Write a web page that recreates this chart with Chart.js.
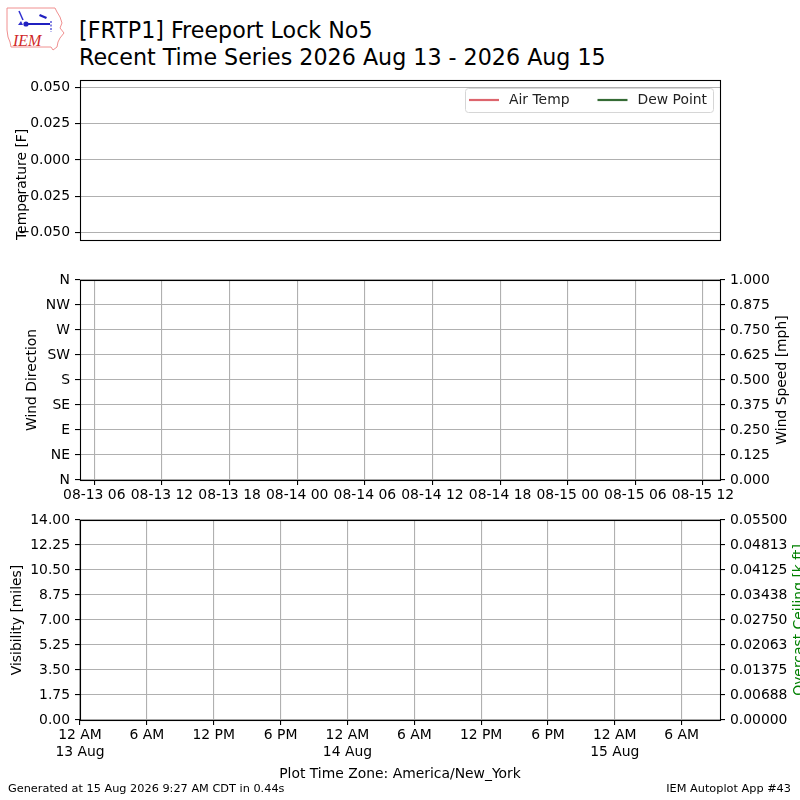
<!DOCTYPE html>
<html>
<head>
<meta charset="utf-8">
<script src="https://cdn.jsdelivr.net/npm/chart.js@4.4.1/dist/chart.umd.min.js"></script>
<style>
html,body{margin:0;padding:0;background:#fff;overflow:hidden;width:800px;height:800px;}
#wrap{position:relative;width:800px;height:800px;font-family:"DejaVu Sans",sans-serif;color:#000;}
canvas.layer{position:absolute;left:0;top:0;}
#title{position:absolute;left:79px;top:16.8px;font-size:22.2px;line-height:27px;white-space:nowrap;}
.foot{position:absolute;top:783px;font-size:11.3px;line-height:11.3px;white-space:nowrap;}
#logo{position:absolute;left:0;top:0;}
</style>
</head>
<body>
<div id="wrap">
  <svg id="logo" width="75" height="55" viewBox="0 0 75 55">
    <path d="M7,8 L55,8 L57,12 L60,17 L62,23 L60,28 L64,33 L60,38 L58,42 L57,47 L53,50 L51,47 L11,47 L10,42 L8,37 L7,30 Z" fill="none" stroke="#f09090" stroke-width="1"/>
    <line x1="19" y1="11" x2="23" y2="20" stroke="#3030d0" stroke-width="1.5"/>
    <path d="M18,25 L21,21 L23,25 Z" fill="#3030d0"/>
    <circle cx="26" cy="24" r="2.6" fill="#2020c0"/>
    <line x1="26" y1="24" x2="50" y2="24" stroke="#2020c0" stroke-width="2"/>
    <path d="M40,14 L47,17 L46,19 L39,16 Z" fill="#2020c0"/>
    <line x1="51" y1="21" x2="51" y2="32" stroke="#3030d0" stroke-width="1.2" stroke-dasharray="2,1.5"/>
    <text x="13" y="46" font-family="Liberation Serif" font-style="italic" font-size="16" fill="#d02828">IEM</text>
  </svg>
  <div id="title">[FRTP1] Freeport Lock No5<br>Recent Time Series 2026 Aug 13 - 2026 Aug 15</div>
  <canvas id="c1" class="layer" width="800" height="800"></canvas>
  <canvas id="c2" class="layer" width="800" height="800"></canvas>
  <canvas id="c3" class="layer" width="800" height="800"></canvas>
  <div class="foot" style="left:8px;">Generated at 15 Aug 2026 9:27 AM CDT in 0.44s</div>
  <div class="foot" style="right:9px;">IEM Autoplot App #43</div>
</div>
<script>
// ---- data (no observations were available in this window) ----
const hoursSinceStart = [];   // obs times, hours after 2026-08-13 00:00 local
const airTempF = [];
const dewPointF = [];
const windDirDeg = [];
const windSpeedMph = [];
const visibilityMiles = [];
const ceilingKft = [];

// ---- tick values / labels ----
const tempTicks = [-0.05, -0.025, 0, 0.025, 0.05];
const dirTicks = [0, 45, 90, 135, 180, 225, 270, 315, 360];
const dirLabels = ['N', 'NE', 'E', 'SE', 'S', 'SW', 'W', 'NW', 'N'];
const speedTicks = [0, 0.125, 0.25, 0.375, 0.5, 0.625, 0.75, 0.875, 1];
const visTicks = [0, 1.75, 3.5, 5.25, 7, 8.75, 10.5, 12.25, 14];
const ceilTicks = [0, 0.006875, 0.01375, 0.020625, 0.0275, 0.034375, 0.04125, 0.048125, 0.055];
const windTickHours = [6, 12, 18, 24, 30, 36, 42, 48, 54, 60];
const windTickLabels = ['08-13 06', '08-13 12', '08-13 18', '08-14 00', '08-14 06',
                        '08-14 12', '08-14 18', '08-15 00', '08-15 06', '08-15 12'];
const localTickHours = [0, 6, 12, 18, 24, 30, 36, 42, 48, 54];
const localTickLabels = [['12 AM', '13 Aug'], '6 AM', '12 PM', '6 PM', ['12 AM', '14 Aug'],
                         '6 AM', '12 PM', '6 PM', ['12 AM', '15 Aug'], '6 AM'];

// ---- style ----
const FONT = {family: 'DejaVu Sans', size: 13.9};
const GRID = '#b0b0b0';
const RED = '#dd656d';
const GREEN = '#356b35';
Chart.defaults.font.family = 'DejaVu Sans';
Chart.defaults.font.size = 13.9;
Chart.defaults.color = '#000';

const pts = (ys) => hoursSinceStart.map((h, i) => ({x: h, y: ys[i]}));
const setTicks = (vals) => (s) => { s.ticks = vals.map(v => ({value: v})); };
const fixW = (s) => { s.width = 80; };

const framePlugin = {
  id: 'frame',
  afterDraw(chart) {
    const {ctx, chartArea: a} = chart;
    ctx.save();
    ctx.strokeStyle = '#000';
    ctx.lineWidth = 1.1;
    ctx.strokeRect(Math.round(a.left) + 0.5, Math.round(a.top) + 0.5,
                   Math.round(a.right - a.left), Math.round(a.bottom - a.top));
    ctx.restore();
  }
};

function sideTitle(text, color, x) {
  return {
    id: 'sideTitle',
    afterDraw(chart) {
      const {ctx, chartArea: a} = chart;
      ctx.save();
      ctx.translate(x, (a.top + a.bottom) / 2);
      ctx.rotate(-Math.PI / 2);
      ctx.textAlign = 'center';
      ctx.textBaseline = 'alphabetic';
      ctx.fillStyle = color;
      ctx.font = '13.9px "DejaVu Sans"';
      ctx.fillText(text, 0, 0);
      ctx.restore();
    }
  };
}

const legendPlugin = {
  id: 'boxLegend',
  afterDraw(chart) {
    const {ctx, chartArea: a} = chart;
    const ds = chart.data.datasets;
    ctx.save();
    ctx.font = '13.9px "DejaVu Sans"';
    const padL = 4, handle = 30, gap = 10, colGap = 28, padR = 6;
    let total = padL + padR;
    ds.forEach((d, i) => { total += handle + gap + ctx.measureText(d.label).width + (i ? colGap : 0); });
    const right = a.right - 7, top = a.top + 8, h = 24;
    const left = right - total;
    ctx.beginPath();
    ctx.roundRect(left + 0.5, top + 0.5, total, h, 3);
    ctx.fillStyle = 'rgba(255,255,255,0.8)';
    ctx.fill();
    ctx.strokeStyle = '#d6d6d6';
    ctx.lineWidth = 1;
    ctx.stroke();
    let x = left + padL;
    const cy = top + h / 2;
    ds.forEach((d, i) => {
      if (i) x += colGap;
      ctx.beginPath();
      ctx.moveTo(x, cy); ctx.lineTo(x + handle, cy);
      ctx.strokeStyle = d.borderColor; ctx.lineWidth = 2.2;
      ctx.stroke();
      x += handle + gap;
      ctx.fillStyle = '#222';
      ctx.textBaseline = 'middle';
      ctx.textAlign = 'left';
      ctx.fillText(d.label, x, cy);
      x += ctx.measureText(d.label).width;
    });
    ctx.restore();
  }
};

const yGrid = {color: GRID, lineWidth: 1.1, tickLength: 5, tickColor: '#000'};
const tickOnly = {drawOnChartArea: false, tickLength: 5, tickColor: '#000', lineWidth: 1.1};

// ---- Panel 1: temperature ----
new Chart(document.getElementById('c1'), {
  type: 'line',
  data: {datasets: [
    {label: 'Air Temp', data: pts(airTempF), borderColor: RED, backgroundColor: RED, borderWidth: 2, pointRadius: 0},
    {label: 'Dew Point', data: pts(dewPointF), borderColor: GREEN, backgroundColor: GREEN, borderWidth: 2, pointRadius: 0}
  ]},
  options: {
    responsive: false, animation: false,
    layout: {padding: {top: 80, bottom: 560, left: 0, right: 80}},
    plugins: {legend: {display: false}, tooltip: {enabled: false}},
    scales: {
      x: {type: 'linear', min: 4.73, max: 61.51, display: false},
      y: {
        type: 'linear', min: -0.055, max: 0.055,
        afterBuildTicks: setTicks(tempTicks), afterFit: fixW,
        ticks: {padding: 5, font: FONT, color: '#000',
                callback: v => (v < 0 ? '\u2212' : '') + Math.abs(v).toFixed(3)},
        grid: yGrid, border: {display: false},
        title: {display: true, text: 'Temperature [F]', align: 'start', color: '#000', font: FONT,
                padding: {top: 13.6, bottom: 0}}
      }
    }
  },
  plugins: [framePlugin, legendPlugin]
});

// ---- Panel 2: wind ----
new Chart(document.getElementById('c2'), {
  type: 'scatter',
  data: {datasets: [
    {label: 'Wind Direction', data: pts(windDirDeg), yAxisID: 'yDir', borderColor: '#000', backgroundColor: '#000', pointRadius: 2},
    {label: 'Wind Speed', type: 'line', data: pts(windSpeedMph), yAxisID: 'ySpd', borderColor: '#1f77b4', pointRadius: 0}
  ]},
  options: {
    responsive: false, animation: false,
    layout: {padding: {top: 280, bottom: 280, left: 0, right: 0}},
    plugins: {legend: {display: false}, tooltip: {enabled: false}},
    scales: {
      x: {
        type: 'linear', min: 4.73, max: 61.51,
        afterBuildTicks: setTicks(windTickHours), afterFit: s => { s.height = 40; },
        ticks: {padding: 2, font: FONT, color: '#000', autoSkip: false, maxRotation: 0,
                callback: (v, i) => windTickLabels[i]},
        grid: {color: GRID, lineWidth: 1.1, tickLength: 5, tickColor: '#000'}, border: {display: false}
      },
      yDir: {
        type: 'linear', position: 'left', min: 0, max: 360,
        afterBuildTicks: setTicks(dirTicks), afterFit: fixW,
        ticks: {padding: 5, font: FONT, color: '#000', callback: (v) => dirLabels[dirTicks.indexOf(v)]},
        grid: yGrid, border: {display: false},
        title: {display: true, text: 'Wind Direction', color: '#000', font: FONT, padding: {top: 24.5, bottom: 0}}
      },
      ySpd: {
        type: 'linear', position: 'right', min: 0, max: 1,
        afterBuildTicks: setTicks(speedTicks), afterFit: fixW,
        ticks: {padding: 5, font: FONT, color: '#000', callback: v => v.toFixed(3)},
        grid: tickOnly, border: {display: false}
      }
    }
  },
  plugins: [framePlugin, sideTitle('Wind Speed [mph]', '#000', 786)]
});

// ---- Panel 3: visibility / ceiling ----
new Chart(document.getElementById('c3'), {
  type: 'line',
  data: {datasets: [
    {label: 'Visibility', data: pts(visibilityMiles), yAxisID: 'yVis', borderColor: '#000', pointRadius: 0},
    {label: 'Overcast Ceiling', data: pts(ceilingKft), yAxisID: 'yCeil', borderColor: 'green', pointRadius: 0}
  ]},
  options: {
    responsive: false, animation: false,
    layout: {padding: {top: 520, bottom: 0, left: 0, right: 0}},
    plugins: {legend: {display: false}, tooltip: {enabled: false}},
    scales: {
      x: {
        type: 'linear', min: 0, max: 57.44,
        afterBuildTicks: setTicks(localTickHours), afterFit: s => { s.height = 80; },
        ticks: {padding: 2, font: FONT, color: '#000', autoSkip: false, maxRotation: 0,
                callback: (v, i) => localTickLabels[i]},
        grid: {color: GRID, lineWidth: 1.1, tickLength: 5, tickColor: '#000'}, border: {display: false},
        title: {display: true, text: 'Plot Time Zone: America/New_York', color: '#000', font: FONT,
                padding: {top: 0, bottom: 17.4}}
      },
      yVis: {
        type: 'linear', position: 'left', min: 0, max: 14,
        afterBuildTicks: setTicks(visTicks), afterFit: fixW,
        ticks: {padding: 5, font: FONT, color: '#000', callback: v => v.toFixed(2)},
        grid: yGrid, border: {display: false},
        title: {display: true, text: 'Visibility [miles]', color: '#000', font: FONT, padding: {top: 9.3, bottom: 0}}
      },
      yCeil: {
        type: 'linear', position: 'right', min: 0, max: 0.055,
        afterBuildTicks: setTicks(ceilTicks), afterFit: fixW,
        ticks: {padding: 5, font: FONT, color: '#000',
                callback: v => (Math.round(v * 1e5 + 1e-6) / 1e5).toFixed(5)},
        grid: tickOnly, border: {display: false}
      }
    }
  },
  plugins: [framePlugin, sideTitle('Overcast Ceiling [k ft]', 'green', 803)]
});
</script>
</body>
</html>
